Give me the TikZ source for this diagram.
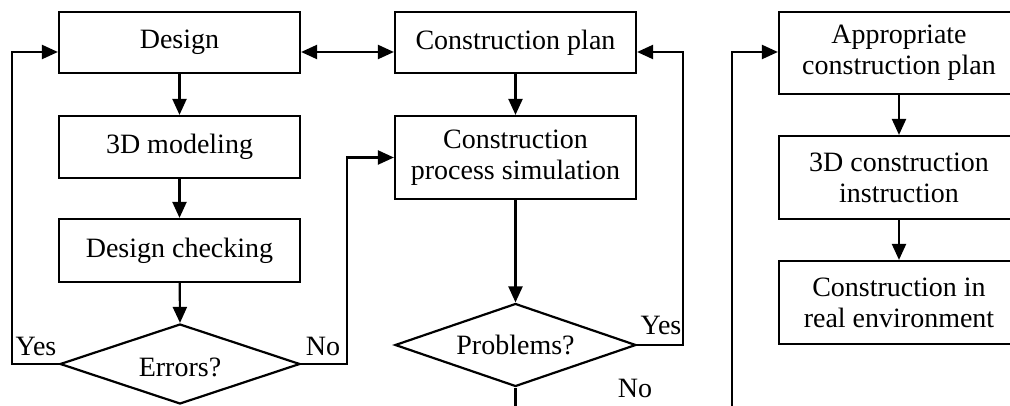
\documentclass[tikz,border=0pt]{standalone}
\usepackage{fontspec}
\setmainfont{Liberation Serif}
\usetikzlibrary{shapes.geometric,arrows.meta,calc}
\begin{document}
\begin{tikzpicture}[x=1pt,y=-1pt,
  font=\fontsize{28}{31}\selectfont,
  box/.style={draw, line width=2.2pt, minimum width=241pt, minimum height=#1, inner sep=0pt, align=center},
  dia/.style={draw, diamond, line width=2.2pt, minimum width=#1, inner sep=0pt},
  arr/.style={line width=2.2pt, -{Triangle[length=16pt,width=14pt]}},
  dbl/.style={line width=2.2pt, {Triangle[length=16pt,width=14pt]}-{Triangle[length=16pt,width=14pt]}},
  lbl/.style={inner sep=0pt}]
\useasboundingbox (0,0) rectangle (1010,406);
\clip (0,0) rectangle (1010,406);
% left column
\node[box=61pt] (design) at (179.5,42.5) {Design};
\node[box=62pt] (model) at (179.5,147) {3D modeling};
\node[box=63pt] (check) at (179.5,250.5) {Design checking};
\node[dia=240pt, minimum height=80pt] (errors) at (180,364) {};
\node[lbl] (errtxt) at (180,367) {Errors?};
% middle column
\node[box=61pt] (cplan) at (515.5,42.5) {Construction plan};
\node[box=83pt] (sim) at (515.5,157.5) {Construction\\process simulation};
\node[dia=241pt, minimum height=83pt] (problems) at (515.5,345) {};
\node[lbl] (probtxt) at (515.5,345) {Problems?};
% right column
\node[box=82pt, minimum width=240pt] (approp) at (899,53) {Appropriate\\construction plan};
\node[box=83pt, minimum width=240pt] (instr) at (899,177.5) {3D construction\\instruction};
\node[box=83pt, minimum width=240pt] (real) at (899,302.5) {Construction in\\real environment};
% labels
\node[lbl] (yes1) at (36,346) {Yes};
\node[lbl] (no1) at (323,346) {No};
\node[lbl] (yes2) at (661,325) {Yes};
\node[lbl] (no2) at (635,388) {No};
% connectors
\draw[arr] (design) -- (model);
\draw[arr] (model) -- (check);
\draw[arr] (check) -- (errors.north);
\draw[arr] (errors.west) -| (12,52) -- (design.west |- 12,52);
\draw[arr] (errors.east) -| ($(sim.west)+(-47,0)$) -- (sim.west);
\draw[dbl] (design.east |- 0,52) -- (cplan.west |- 0,52);
\draw[arr] (cplan) -- (sim);
\draw[arr] (sim) -- (problems.north);
\draw[arr] (problems.east) -| (683,52) -- (cplan.east |- 0,52);
\draw[arr] (problems.south) -- ++(0,60) -| (732,52) -- (approp.west |- 0,52);
\draw[arr] (approp) -- (instr);
\draw[arr] (instr) -- (real);
\end{tikzpicture}
\end{document}
